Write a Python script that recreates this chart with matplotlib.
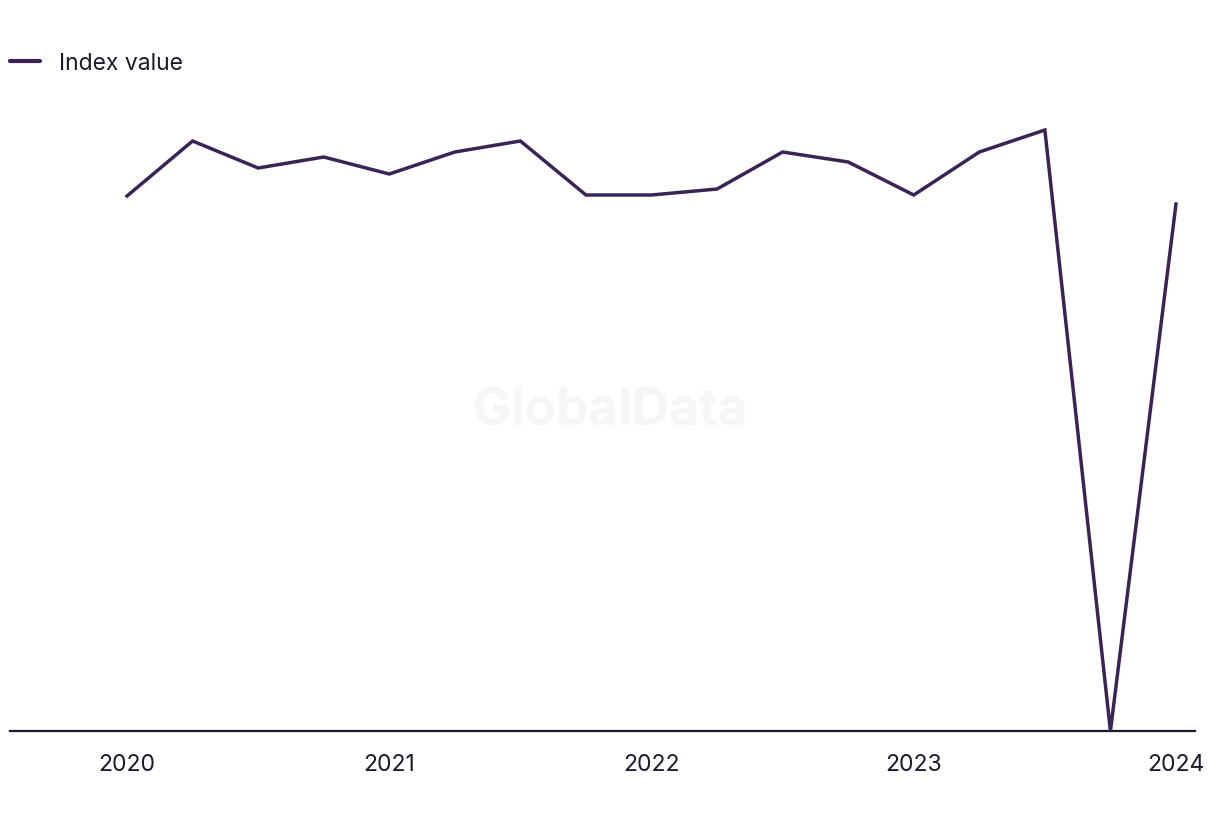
import matplotlib.pyplot as plt

plt.rcParams['font.family'] = ['Inter', 'DejaVu Sans']

# quarterly index values, 2020 Q1 .. 2024 Q1
quarters = ['2020 Q1', '2020 Q2', '2020 Q3', '2020 Q4',
            '2021 Q1', '2021 Q2', '2021 Q3', '2021 Q4',
            '2022 Q1', '2022 Q2', '2022 Q3', '2022 Q4',
            '2023 Q1', '2023 Q2', '2023 Q3', '2023 Q4',
            '2024 Q1']
index_value = [53.5, 59.0, 56.3, 57.4, 55.7, 57.9, 59.0, 53.6,
               53.6, 54.2, 57.9, 56.9, 53.6, 57.9, 60.1, 0.0, 52.7]
year_labels = ['2020', '2021', '2022', '2023', '2024']

line_col = '#3a2456'
axis_col = '#1a1a2e'

fig = plt.figure(figsize=(12.2, 8.2), dpi=100)
ax = fig.add_axes([10 / 1220, 1 - 732 / 820, 1185 / 1220, 632 / 820])

x = list(range(len(quarters)))
ax.plot(x, index_value, color=line_col, lw=2.5, label='Index value',
        solid_joinstyle='miter', zorder=3)

ax.set_xlim(-1.785, 16.29)
ax.set_ylim(0, 63.2)

ax.set_xticks([i * 4 for i in range(len(year_labels))])
ax.set_xticklabels(year_labels, fontsize=16.5, color=axis_col)
ax.tick_params(axis='x', length=0, pad=15.5)
ax.set_yticks([])

for s in ['top', 'right', 'left']:
    ax.spines[s].set_visible(False)
ax.spines['bottom'].set_color(axis_col)
ax.spines['bottom'].set_linewidth(1.6)
ax.spines['bottom'].set_zorder(2)

# watermark
fig.text(610 / 1220, 1 - 412 / 820, 'GlobalData', fontsize=37, fontweight='bold',
         color='#f6f6f6', ha='center', va='center', zorder=0)

leg = ax.legend(loc='center left', bbox_to_anchor=(10 / 1220, 1 - 64 / 820),
                bbox_transform=fig.transFigure, frameon=False, fontsize=16.5,
                borderaxespad=0, borderpad=0, handlelength=1.3, handletextpad=0.85)
for t in leg.get_texts():
    t.set_color(axis_col)
for h in leg.get_lines():
    h.set_linewidth(3)
    h.set_solid_capstyle('round')

fig.savefig('out.png', dpi=100)
